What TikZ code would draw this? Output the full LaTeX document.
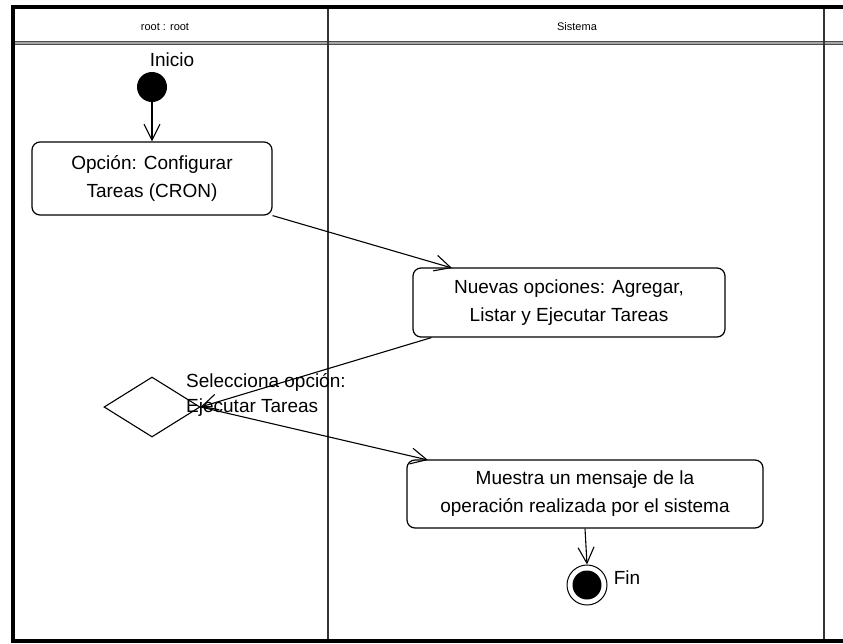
\documentclass[tikz,border=0pt]{standalone}
\usepackage{fontspec}
\setmainfont{Liberation Sans}
\usetikzlibrary{arrows.meta,shapes.geometric}

\tikzset{
  act/.style={shape=rectangle,draw,rounded corners=8pt,line width=1.2pt,
    align=center,inner sep=0pt,font=\fontsize{19}{28}\selectfont},
  lbl/.style={font=\fontsize{19}{25}\selectfont,inner sep=0pt},
  flow/.style={line width=1.1pt,-{Straight Barb[length=16pt,width=16pt,line width=1.1pt]}}
}

\begin{document}
\begin{tikzpicture}[x=1pt,y=-1pt]
\useasboundingbox (0,0) rectangle (843,643);
% swimlanes
\draw[line width=4pt] (843,6.5) -- (13,6.5) -- (13,643);
\draw[line width=4pt] (11,641) -- (843,641);
\draw[draw=black!70,double=black!35,double distance=2.5pt,line width=1pt] (15,43) -- (843,43);
\draw[black!80,line width=2pt] (328,9) -- (328,639);
\draw[black!80,line width=2pt] (824,9) -- (824,639);
\node(h1) at (165,27)[font=\fontsize{11}{13}\selectfont] {root : root};
\node(h2) at (577,27)[font=\fontsize{11}{13}\selectfont] {Sistema};

% activities
\node(ini) at (152,87)[shape=circle,fill,minimum size=30pt,inner sep=0pt] {};
\node(tini) at (172,60)[lbl] {Inicio};
\node(0) at (152,178.5)[act,minimum width=240pt,minimum height=73pt] {Opción: Configurar\\Tareas (CRON)};
\node(1) at (569,302.5)[act,minimum width=312pt,minimum height=69pt] {Nuevas opciones: Agregar,\\Listar y Ejecutar Tareas};
\node(2) at (152,407)[shape=diamond,draw,line width=1.1pt,minimum width=96pt,minimum height=60pt,inner sep=0pt] {};
\node(t2) at (186,395)[lbl,anchor=west,align=left] {Selecciona opción:\\Ejecutar Tareas};
\node(3) at (585,494)[act,minimum width=356pt,minimum height=68pt] {Muestra un mensaje de la\\operación realizada por el sistema};
\node(fin) at (587,585)[shape=circle,draw,line width=1pt,minimum size=40pt,inner sep=0pt] {};
\node(fin2) at (587,585)[shape=circle,fill,minimum size=29pt,inner sep=0pt] {};
\node(tfin) at (627,578)[lbl] {Fin};

\path [flow]
  (ini)                      edge    (0.north)
  (0.south east)             edge    (452,268)
  ([xshift=19pt]1.south west) edge   (2.east)
  (2.east)                   edge    (428,460)
  (3.south)                  edge    (fin.north);

\end{tikzpicture}
\end{document}
